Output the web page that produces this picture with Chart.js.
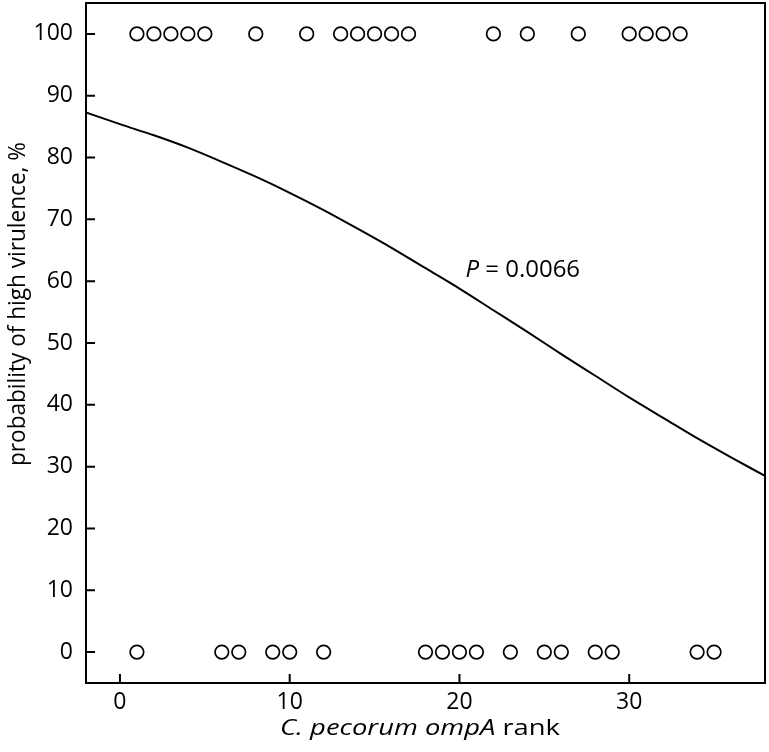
<!DOCTYPE html>
<html><head><meta charset="utf-8">
<script src="https://cdn.jsdelivr.net/npm/chart.js@4"></script>
<style>html,body{margin:0;padding:0;background:#fff}canvas{display:block}</style>
</head><body>
<canvas id="c" width="769" height="752"></canvas>
<script>
const xTicks = [0, 10, 20, 30];
const yTicks = [0, 10, 20, 30, 40, 50, 60, 70, 80, 90, 100];
const highRanks = [1, 2, 3, 4, 5, 8, 11, 13, 14, 15, 16, 17, 22, 24, 27, 30, 31, 32, 33];
const lowRanks = [1, 6, 7, 9, 10, 12, 18, 19, 20, 21, 23, 25, 26, 28, 29, 34, 35];
const curveX = [-2, 0, 2, 4, 6, 8, 10, 12, 14, 16, 18, 20, 22, 24, 26, 28, 30, 32, 34, 36, 38];
const curveY = [87.3, 85.4, 83.6, 81.6, 79.3, 76.9, 74.3, 71.5, 68.5, 65.4, 62.1, 58.8, 55.3, 51.8, 48.2, 44.7, 41.2, 37.9, 34.6, 31.5, 28.5];
const pNote = { x: 20.35, y: 60.7, italic: 'P', rest: ' = 0.0066' };
const xTitleParts = [['C. pecorum ', 'italic'], ['ompA', 'italic'], [' rank', 'normal']];
const yTitle = 'probability of high virulence, %';

const FONT = "'Open Sans'";

const frame = {
  id: 'frame',
  afterDraw(chart) {
    const ctx = chart.ctx, a = chart.chartArea;
    const xs = chart.scales.x, ys = chart.scales.y;
    ctx.save();
    ctx.strokeStyle = '#000';
    ctx.lineWidth = 2;
    ctx.strokeRect(a.left, a.top, a.right - a.left, a.bottom - a.top);
    ctx.beginPath();
    xTicks.forEach(v => { const p = xs.getPixelForValue(v); ctx.moveTo(p, a.bottom); ctx.lineTo(p, a.bottom - 9); });
    yTicks.forEach(v => { const p = ys.getPixelForValue(v); ctx.moveTo(a.left, p); ctx.lineTo(a.left + 9, p); });
    ctx.stroke();
    ctx.fillStyle = '#000';
    // y title (fitted to its length in the reference)
    ctx.save();
    ctx.font = '24px ' + FONT;
    const yLen = ctx.measureText(yTitle).width;
    ctx.translate(25, 304);
    ctx.rotate(-Math.PI / 2);
    ctx.scale(324 / yLen, 1);
    ctx.textAlign = 'center';
    ctx.textBaseline = 'alphabetic';
    ctx.fillText(yTitle, 0, 0);
    ctx.restore();
    // x title
    ctx.save();
    ctx.textAlign = 'left';
    ctx.textBaseline = 'alphabetic';
    let W = 0;
    const widths = xTitleParts.map(([t, st]) => { ctx.font = st + ' 22px ' + FONT; const w = ctx.measureText(t).width; W += w; return w; });
    const target = 280, sx = target / W;
    ctx.translate(420 - target / 2, 735);
    ctx.scale(sx, 1);
    let cx = 0;
    xTitleParts.forEach(([t, st], i) => { ctx.font = st + ' 22px ' + FONT; ctx.fillText(t, cx, 0); cx += widths[i]; });
    ctx.restore();
    // P annotation
    const px = xs.getPixelForValue(pNote.x), py = ys.getPixelForValue(pNote.y);
    ctx.textAlign = 'left';
    ctx.textBaseline = 'alphabetic';
    ctx.font = 'italic 24px ' + FONT;
    ctx.fillText(pNote.italic, px, py);
    const w1 = ctx.measureText(pNote.italic).width;
    ctx.font = '24px ' + FONT;
    ctx.fillText(pNote.rest, px + w1, py);
    ctx.restore();
  }
};

const pointStyle = { pointRadius: 6.8, pointHoverRadius: 6.8, pointBorderWidth: 1.7, borderColor: '#000', pointBorderColor: '#000', backgroundColor: 'rgba(0,0,0,0)', pointBackgroundColor: 'rgba(0,0,0,0)' };

new Chart(document.getElementById('c'), {
  type: 'scatter',
  data: {
    datasets: [
      { data: curveX.map((x, i) => ({ x, y: curveY[i] })), showLine: true, borderColor: '#000', borderWidth: 2, pointRadius: 0, fill: false, tension: 0.4, cubicInterpolationMode: 'monotone', order: 2 },
      Object.assign({ data: highRanks.map(x => ({ x, y: 100 })), order: 1 }, pointStyle),
      Object.assign({ data: lowRanks.map(x => ({ x, y: 0 })), order: 1 }, pointStyle)
    ]
  },
  options: {
    responsive: false, animation: false, devicePixelRatio: 1,
    layout: { autoPadding: false, padding: { top: 3, right: 4, left: 0, bottom: 0 } },
    plugins: { legend: { display: false }, tooltip: { enabled: false } },
    events: [],
    scales: {
      x: {
        type: 'linear', min: -2, max: 38,
        afterBuildTicks: s => { s.ticks = xTicks.map(v => ({ value: v })); },
        afterFit: s => { s.height = 69; s.paddingLeft = 0; s.paddingRight = 0; },
        grid: { display: false, drawTicks: false }, border: { display: false },
        ticks: { font: { family: FONT, size: 23 }, color: '#000', padding: 6, maxRotation: 0, autoSkip: false }
      },
      y: {
        type: 'linear', min: -5, max: 105,
        afterBuildTicks: s => { s.ticks = yTicks.map(v => ({ value: v })); },
        afterFit: s => { s.width = 86; s.paddingTop = 0; s.paddingBottom = 0; },
        grid: { display: false, drawTicks: false }, border: { display: false },
        ticks: { font: { family: FONT, size: 23 }, color: '#000', padding: 13, autoSkip: false }
      }
    }
  },
  plugins: [frame]
});
</script>
</body></html>
